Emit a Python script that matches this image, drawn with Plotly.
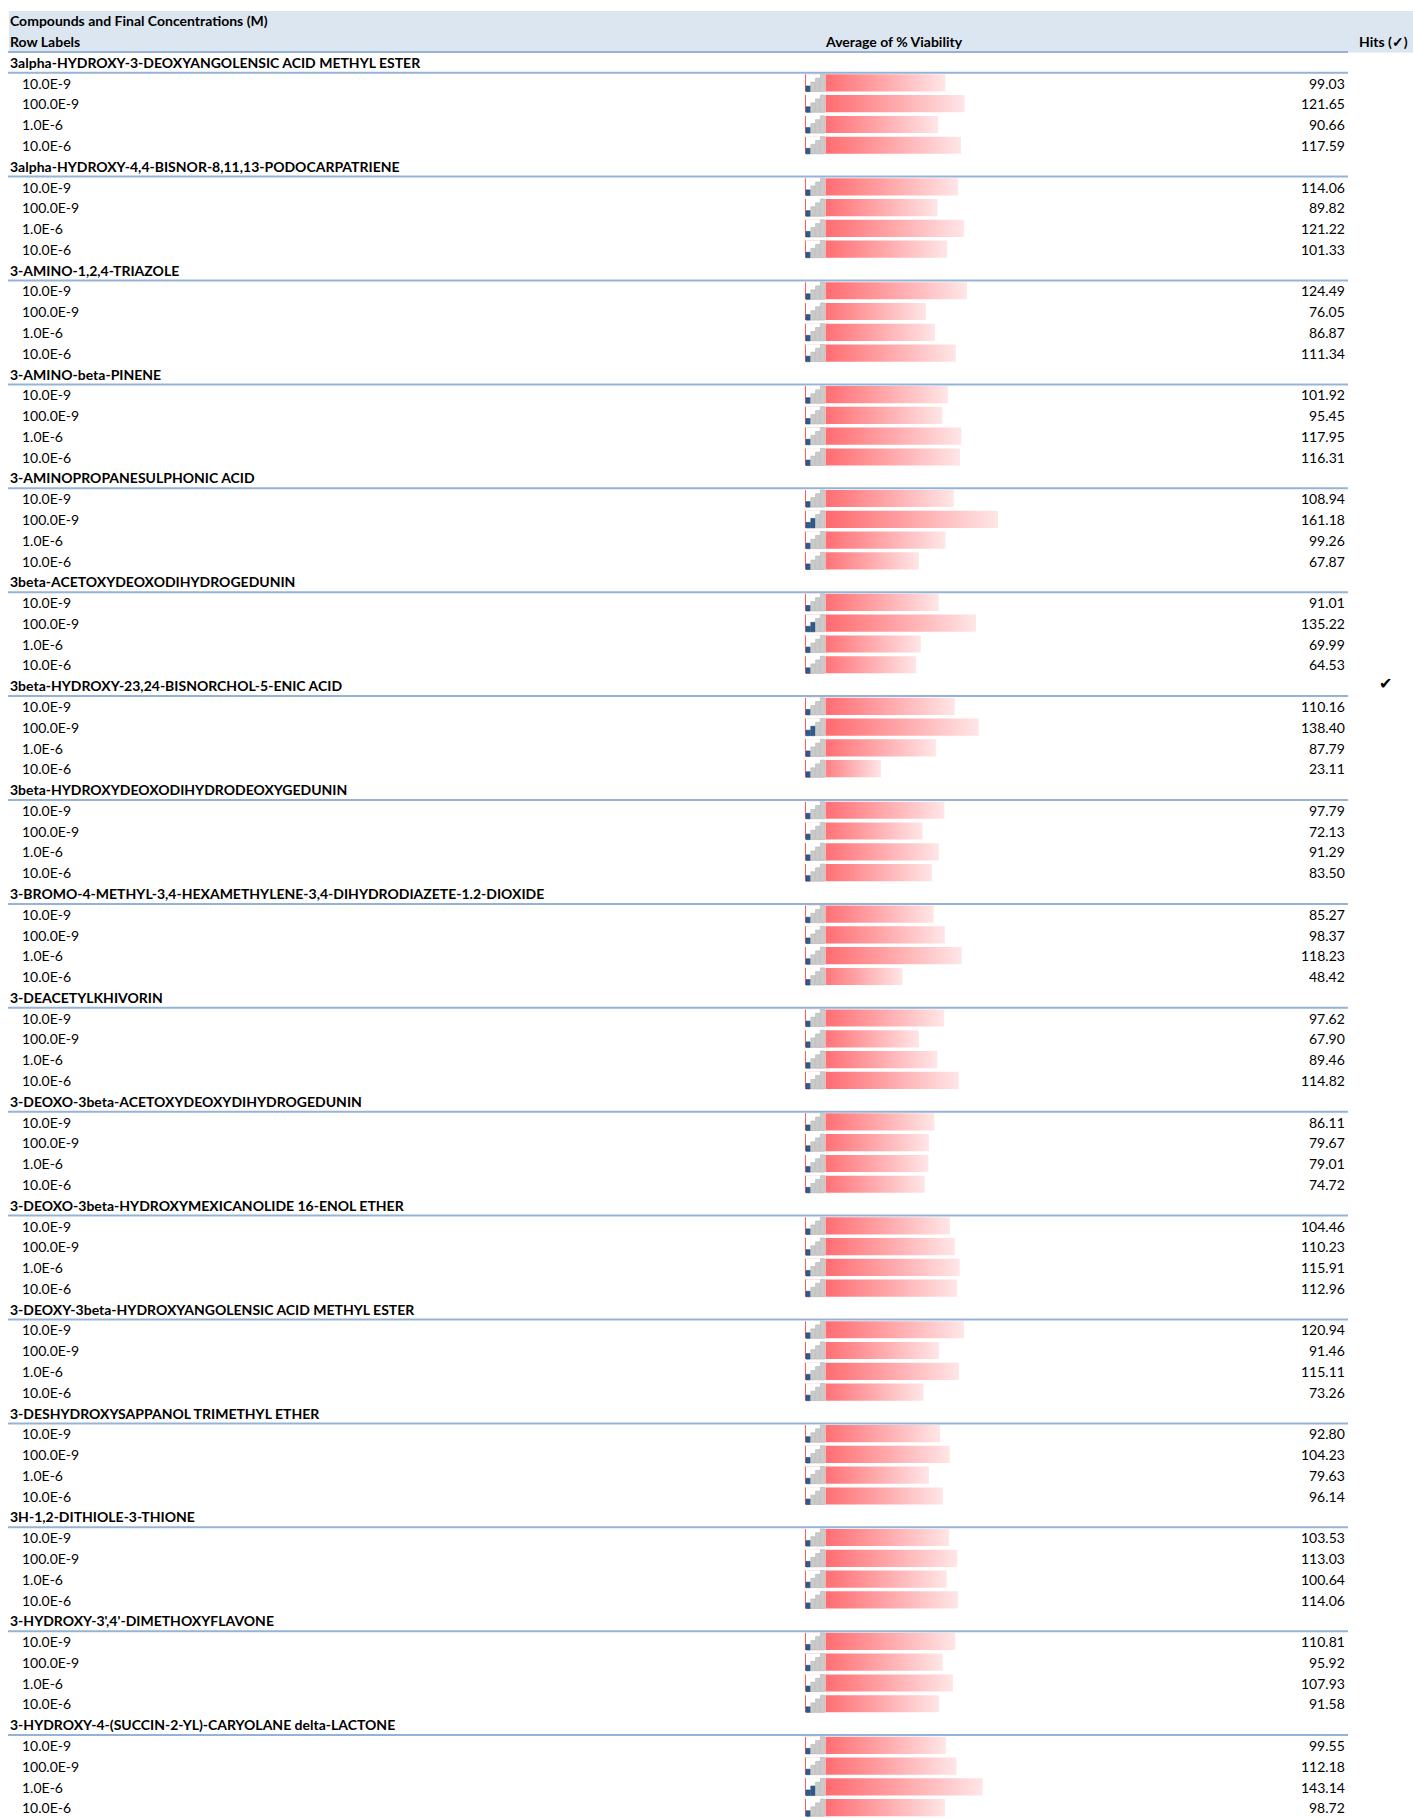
import plotly.graph_objects as go

# ---------------- data ----------------
compounds = [
    "3alpha-HYDROXY-3-DEOXYANGOLENSIC ACID METHYL ESTER",
    "3alpha-HYDROXY-4,4-BISNOR-8,11,13-PODOCARPATRIENE",
    "3-AMINO-1,2,4-TRIAZOLE",
    "3-AMINO-beta-PINENE",
    "3-AMINOPROPANESULPHONIC ACID",
    "3beta-ACETOXYDEOXODIHYDROGEDUNIN",
    "3beta-HYDROXY-23,24-BISNORCHOL-5-ENIC ACID",
    "3beta-HYDROXYDEOXODIHYDRODEOXYGEDUNIN",
    "3-BROMO-4-METHYL-3,4-HEXAMETHYLENE-3,4-DIHYDRODIAZETE-1.2-DIOXIDE",
    "3-DEACETYLKHIVORIN",
    "3-DEOXO-3beta-ACETOXYDEOXYDIHYDROGEDUNIN",
    "3-DEOXO-3beta-HYDROXYMEXICANOLIDE 16-ENOL ETHER",
    "3-DEOXY-3beta-HYDROXYANGOLENSIC ACID METHYL ESTER",
    "3-DESHYDROXYSAPPANOL TRIMETHYL ETHER",
    "3H-1,2-DITHIOLE-3-THIONE",
    "3-HYDROXY-3',4'-DIMETHOXYFLAVONE",
    "3-HYDROXY-4-(SUCCIN-2-YL)-CARYOLANE delta-LACTONE",
]
concentrations = ["10.0E-9", "100.0E-9", "1.0E-6", "10.0E-6"]
viability = [
    [99.03, 121.65, 90.66, 117.59],
    [114.06, 89.82, 121.22, 101.33],
    [124.49, 76.05, 86.87, 111.34],
    [101.92, 95.45, 117.95, 116.31],
    [108.94, 161.18, 99.26, 67.87],
    [91.01, 135.22, 69.99, 64.53],
    [110.16, 138.40, 87.79, 23.11],
    [97.79, 72.13, 91.29, 83.50],
    [85.27, 98.37, 118.23, 48.42],
    [97.62, 67.90, 89.46, 114.82],
    [86.11, 79.67, 79.01, 74.72],
    [104.46, 110.23, 115.91, 112.96],
    [120.94, 91.46, 115.11, 73.26],
    [92.80, 104.23, 79.63, 96.14],
    [103.53, 113.03, 100.64, 114.06],
    [110.81, 95.92, 107.93, 91.58],
    [99.55, 112.18, 143.14, 98.72],
]
hits = ["", "", "", "", "", "", "\u2714", "", "", "", "", "", "", "", "", "", ""]

header_title = "Compounds and Final Concentrations (M)"
header_rows = "Row Labels"
header_value = "Average of % Viability"
header_hits = "Hits (\u2713)"

# ---------------- layout constants ----------------
W, H = 1413, 1818
TOP = 11.0
ROW = 20.78
BAR_START_PX = 805.0
BAR_ZERO_PX = 861.5
BAR_PX_PER_UNIT = 0.847
LINE_END = 1348
FONT = "Lato"
FS = 14.0
TXT_DY = -0.03

bar_base = (BAR_START_PX - BAR_ZERO_PX) / BAR_PX_PER_UNIT
x2_range = [-BAR_ZERO_PX / BAR_PX_PER_UNIT, (W - BAR_ZERO_PX) / BAR_PX_PER_UNIT]
y_top = -TOP / ROW - 0.5
y_bot = (H - TOP) / ROW - 0.5

fig = go.Figure()
shapes = []
annotations = []

def ann(x, y, text, anchor="left", bold=False):
    annotations.append(dict(
        x=x, y=y, xref="x", yref="y", text=("<b>%s</b>" % text) if bold else text,
        showarrow=False, xanchor=anchor, yanchor="middle",
        font=dict(family=FONT, size=FS, color="black"), borderpad=0))

# header band
shapes.append(dict(type="rect", xref="x", yref="y", x0=9, x1=W, y0=-0.5, y1=1.5,
                   fillcolor="#DCE6F1", line=dict(width=0), layer="below"))
shapes.append(dict(type="line", xref="x", yref="y", x0=8, x1=LINE_END, y0=1.5 - 0.03, y1=1.5 - 0.03,
                   line=dict(color="#95B3D7", width=2)))
ann(9, 0 + TXT_DY, header_title, bold=True)
ann(9, 1 + TXT_DY, header_rows, bold=True)
ann(824, 1 + TXT_DY, header_value, bold=True)
ann(1358, 1 + TXT_DY, header_hits, bold=True)

row = 2
for g, name in enumerate(compounds):
    ann(9, row + TXT_DY, name, bold=True)
    if hits[g]:
        annotations.append(dict(x=1385, y=row - 0.12, xref="x", yref="y", text=hits[g],
                                showarrow=False, xanchor="center", yanchor="middle",
                                font=dict(family="DejaVu Sans", size=16, color="black")))
    shapes.append(dict(type="line", xref="x", yref="y", x0=8, x1=LINE_END,
                       y0=row + 0.47, y1=row + 0.47, line=dict(color="#95B3D7", width=2)))
    row += 1
    for c, conc in enumerate(concentrations):
        v = viability[g][c]
        ann(21, row + TXT_DY, conc)
        ann(1346, row + TXT_DY, "%.2f" % v, anchor="right")
        y0 = row - 0.5 + 1.0 / ROW
        y1 = row + 0.5 - 2.6 / ROW
        fig.add_trace(go.Scatter(
            x=[bar_base, v, v, bar_base, bar_base], y=[y0, y0, y1, y1, y0],
            xaxis="x2", yaxis="y", mode="lines", line=dict(width=0),
            fill="toself",
            fillgradient=dict(type="horizontal",
                              colorscale=[[0, "#FF5A5F"], [0.5, "#FF9FA2"], [1, "#FFE6E7"]]),
            hoverinfo="skip", showlegend=False))
        # icon (signal bars)
        ix0 = BAR_START_PX + 1
        shapes.append(dict(type="rect", xref="x", yref="y", x0=ix0, x1=ix0 + 19.5,
                           y0=y0 - 0.01, y1=y1 + 0.01, fillcolor="white", line=dict(width=0)))
        nblue = 2 if v >= 130 else 1
        heights = [0.32, 0.55, 0.78, 1.0]
        for k, hf in enumerate(heights):
            bx0 = ix0 + k * 4.8
            col = "#2F5B8E" if k < nblue else "#CBCBCB"
            shapes.append(dict(type="rect", xref="x", yref="y", x0=bx0, x1=bx0 + 4.3,
                               y0=y1 - (y1 - y0) * hf, y1=y1, fillcolor=col,
                               line=dict(width=0.6, color="#1F4470" if k < nblue else "#B4B4B4")))
        row += 1

fig.update_layout(
    width=W, height=H, margin=dict(l=0, r=0, t=0, b=0),
    paper_bgcolor="white", plot_bgcolor="white",
    xaxis=dict(range=[0, W], visible=False, fixedrange=True),
    xaxis2=dict(range=x2_range, overlaying="x", visible=False, fixedrange=True),
    yaxis=dict(range=[y_bot, y_top], visible=False, fixedrange=True),
    shapes=shapes, annotations=annotations, showlegend=False,
)

fig.write_html("out.html", config={"displayModeBar": False},
               post_script="document.body.style.margin='0px';")
